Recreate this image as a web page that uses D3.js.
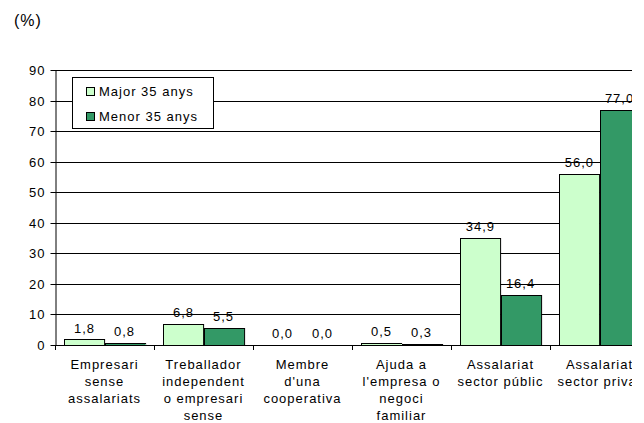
<!DOCTYPE html>
<html><head><meta charset="utf-8">
<script src="https://cdn.jsdelivr.net/npm/d3@7"></script>
<style>
body{margin:0;background:#fff;}
text{font-family:"Liberation Sans",Arial,sans-serif;fill:#000;}
</style></head>
<body>
<svg id="c" width="644" height="423"></svg>
<script>
const categories = [
  ["Empresari","sense","assalariats"],
  ["Treballador","independent","o empresari","sense"],
  ["Membre","d'una","cooperativa"],
  ["Ajuda a","l'empresa o","negoci","familiar"],
  ["Assalariat","sector públic"],
  ["Assalariat","sector privat"]
];
const seriesNames = ["Major 35 anys","Menor 35 anys"];
const major = [1.8, 6.8, 0.0, 0.5, 34.9, 56.0];
const menor = [0.8, 5.5, 0.0, 0.3, 16.4, 77.0];
const yTicks = [0,10,20,30,40,50,60,70,80,90];
const colors = ["#CCFFCC","#339966"];

(function(){
const root = d3.select("#c");
root.append("defs").append("clipPath").attr("id","clipR")
  .append("rect").attr("x",0).attr("y",0).attr("width",632).attr("height",423);
const svg = root.append("g").attr("clip-path","url(#clipR)");
const mL = 55, mR = 649, mT = 70, mB = 345;
const idx = categories.map((d,i)=>i);
const x0 = d3.scaleBand().domain(idx).range([mL,mR]).paddingInner(0.19).paddingOuter(0.095);
const x1 = d3.scaleBand().domain([0,1]).range([0,x0.bandwidth()]);
const y = d3.scaleLinear().domain([0,90]).range([mB,mT]);
const fmt = v => d3.format(".1f")(v).replace(".",",");

// gridlines
svg.append("g").selectAll("line").data(yTicks.filter(d=>d>0)).join("line")
  .attr("x1",mL).attr("x2",mR).attr("y1",d=>Math.round(y(d))+0.5).attr("y2",d=>Math.round(y(d))+0.5)
  .attr("stroke","#000").attr("stroke-width",1);

// y axis
const ya = svg.append("g").attr("transform",`translate(${mL+0.5},0)`)
  .call(d3.axisLeft(y).tickValues(yTicks).tickSize(5).tickSizeOuter(0).tickPadding(5));
ya.attr("font-family",null).attr("font-size",null);
ya.select(".domain").attr("stroke","#000");
ya.selectAll(".tick line").attr("stroke","#000");
ya.selectAll(".tick").attr("transform",d=>`translate(0,${Math.round(y(d))+0.5})`);
ya.selectAll("text").style("font-size","13px").style("letter-spacing","1px");

// x axis
svg.append("line").attr("x1",mL).attr("x2",mR).attr("y1",mB+0.5).attr("y2",mB+0.5).attr("stroke","#000");
const xt = idx.map(i=>x0(i)-x0.step()*x0.paddingInner()/2).concat([mR]);
svg.append("g").selectAll("line").data(xt).join("line")
  .attr("x1",d=>Math.round(d)+0.5).attr("x2",d=>Math.round(d)+0.5)
  .attr("y1",mB).attr("y2",mB+5).attr("stroke","#000");

// bars
const series = [major, menor];
series.forEach((vals,s)=>{
  const g = svg.append("g");
  g.selectAll("rect").data(vals).join("rect")
    .attr("x",(d,i)=>Math.round(x0(i)+x1(s))+0.5)
    .attr("width",x1.bandwidth())
    .attr("y",d=>Math.round(y(d))+0.5)
    .attr("height",d=>Math.max(0,Math.round(y(0))-Math.round(y(d))))
    .attr("fill",colors[s]).attr("stroke","#000").attr("stroke-width",1);
  g.selectAll("text").data(vals).join("text")
    .attr("x",(d,i)=>x0(i)+x1(s)+x1.bandwidth()/2)
    .attr("y",d=>y(d)-7)
    .attr("text-anchor","middle")
    .style("font-size","13px").style("letter-spacing","1px")
    .text(d=>fmt(d));
});

// category labels
const cl = svg.append("g");
categories.forEach((lines,i)=>{
  const t = cl.append("text").attr("text-anchor","middle")
    .style("font-size","13px").style("letter-spacing","1px");
  lines.forEach((ln,j)=>{
    t.append("tspan").attr("x",x0(i)+x0.bandwidth()/2).attr("y",369+j*17).text(ln);
  });
});

// legend
const lg = svg.append("g");
lg.append("rect").attr("x",72.5).attr("y",77.5).attr("width",141).attr("height",51)
  .attr("fill","#fff").attr("stroke","#000");
seriesNames.forEach((n,i)=>{
  lg.append("rect").attr("x",86.5).attr("y",87.5+i*25).attr("width",8).attr("height",8)
    .attr("fill",colors[i]).attr("stroke","#000");
  lg.append("text").attr("x",99).attr("y",96+i*25).style("font-size","13px").style("letter-spacing","1px").text(n);
});

// unit label
svg.append("text").attr("x",14).attr("y",26).style("font-size","16px").style("letter-spacing","1px").text("(%)");
})();
</script>
</body></html>
